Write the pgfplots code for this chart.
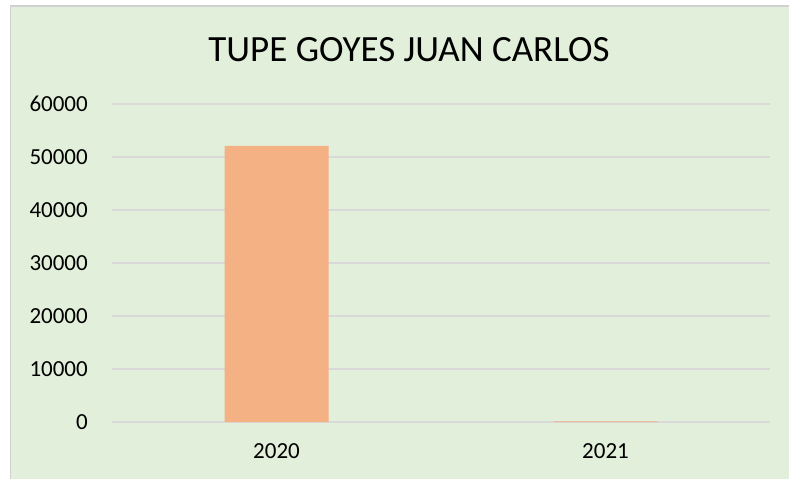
\documentclass[border=0pt]{standalone}
\usepackage{pgfplots}
\pgfplotsset{compat=1.18}
\usepackage{fontspec}
\setmainfont{Carlito}
\definecolor{bgc}{HTML}{E2EFDA}
\definecolor{barc}{HTML}{F4B183}
\definecolor{gridc}{HTML}{D9D9D9}
\definecolor{bordc}{HTML}{D0D0D0}
\begin{document}
\begin{tikzpicture}
\useasboundingbox (0,0) rectangle (789bp,479bp);
\fill[white] (0,0) rectangle (789bp,479bp);
\fill[bgc] (10.5bp,0) rectangle (789bp,473bp);
\draw[bordc, line width=1.2bp] (10.5bp,0) -- (10.5bp,473bp) -- (789bp,473bp);
\node[anchor=base, inner sep=0, font=\fontsize{37bp}{44bp}\selectfont] at (409bp,417.3bp) {TUPE GOYES JUAN CARLOS};
\begin{axis}[
  at={(112bp,57bp)}, anchor=south west,
  scale only axis, width=658bp, height=318bp,
  xmin=-0.5, xmax=1.5, ymin=0, ymax=60000,
  xtick={0,1}, xticklabels={2020,2021},
  ytick={0,10000,20000,30000,40000,50000,60000},
  scaled y ticks=false,
  /pgf/number format/assume math mode=true,
  yticklabel={\pgfmathprintnumber[fixed,1000 sep={}]{\tick}},
  axis line style={draw=none},
  major tick length=0,
  ymajorgrids, grid style={gridc, line width=1.2bp},
  ticklabel style={font=\fontsize{23bp}{27bp}\selectfont, text=black},
  xticklabel style={anchor=base, inner sep=0, yshift=-36.3bp},
  yticklabel style={anchor=east, inner sep=0, xshift=-24bp},
  ybar, bar width=104bp, bar shift=0pt,
  clip=false,
]
\addplot[fill=barc, draw=none] coordinates {(0,52100) (1,100)};
\end{axis}
\end{tikzpicture}
\end{document}
